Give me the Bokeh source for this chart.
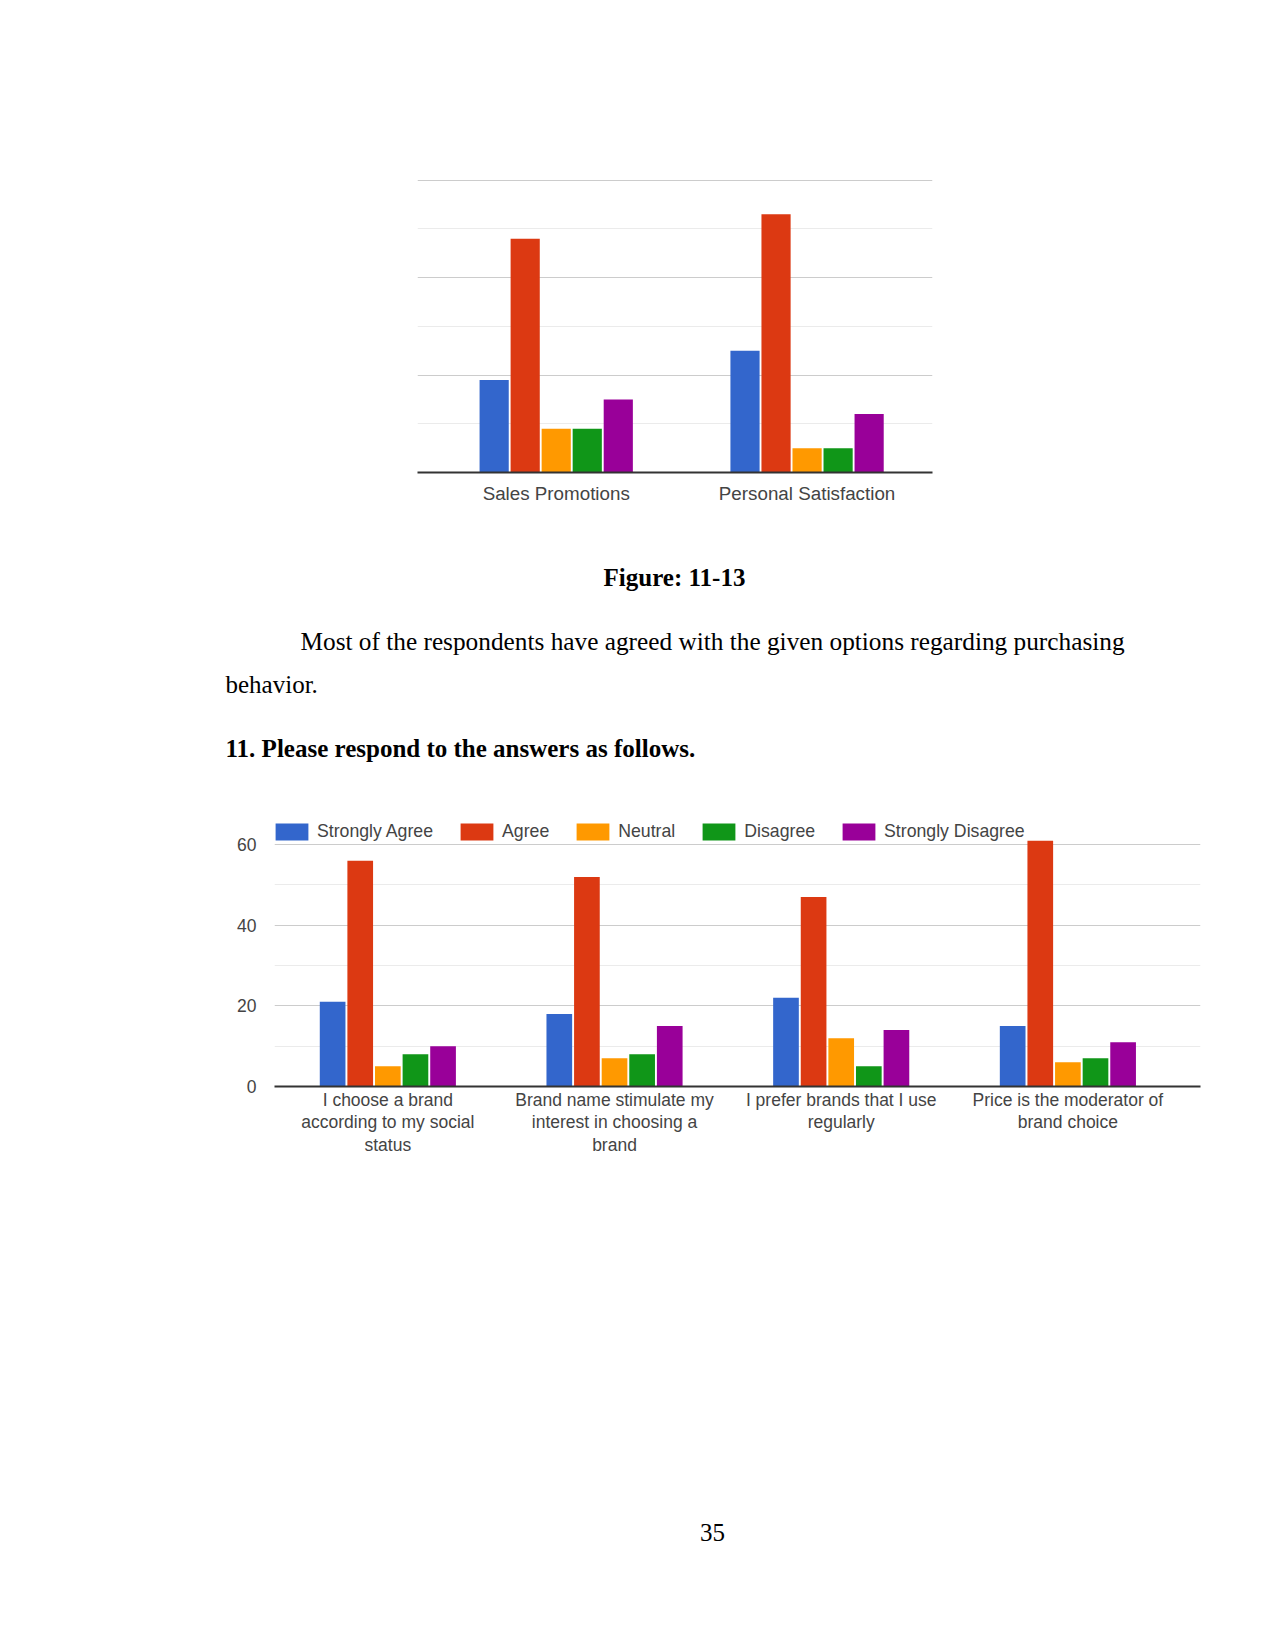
from bokeh.plotting import figure
from bokeh.models import Range1d, FixedTicker, Legend, LegendItem, ColumnDataSource
from bokeh.transform import dodge
from bokeh.core.properties import value
from bokeh.embed import file_html
from bokeh.resources import INLINE

# ---------------- data ----------------
series_names = ["Strongly Agree", "Agree", "Neutral", "Disagree", "Strongly Disagree"]
series_colors = ["#3366cc", "#dc3912", "#ff9900", "#109618", "#990099"]

top_categories = ["Sales Promotions", "Personal Satisfaction"]
top_strongly_agree = [19, 25]
top_agree = [48, 53]
top_neutral = [9, 5]
top_disagree = [9, 5]
top_strongly_disagree = [15, 12]

bottom_categories = [
    "I choose a brand\naccording to my social\nstatus",
    "Brand name stimulate my\ninterest in choosing a\nbrand",
    "I prefer brands that I use\nregularly",
    "Price is the moderator of\nbrand choice",
]
bottom_strongly_agree = [21, 18, 22, 15]
bottom_agree = [56, 52, 47, 61]
bottom_neutral = [5, 7, 12, 6]
bottom_disagree = [8, 8, 5, 7]
bottom_strongly_disagree = [10, 15, 14, 11]

y_major = [0, 20, 40, 60]
y_minor = [10, 30, 50]

caption = "Figure: 11-13"
para_line1 = "Most of the respondents have agreed with the given options regarding purchasing"
para_line2 = "behavior."
heading = "11. Please respond to the answers as follows."
page_number = "35"

SANS = "Liberation Sans"
SERIF = "Liberation Serif"
W = 1267


def style_chart(p):
    p.outline_line_color = None
    p.background_fill_color = "white"
    p.border_fill_color = "white"
    p.ygrid.ticker = FixedTicker(ticks=y_major, minor_ticks=y_minor)
    p.ygrid.grid_line_color = "#cccccc"
    p.ygrid.grid_line_width = 1
    p.ygrid.minor_grid_line_color = "#ebebeb"
    p.ygrid.minor_grid_line_width = 1
    p.xgrid.grid_line_color = None
    p.xaxis.axis_line_color = "#333333"
    p.xaxis.axis_line_width = 2
    p.xaxis.major_tick_line_color = None
    p.xaxis.minor_tick_line_color = None
    p.xaxis.major_label_text_font = SANS
    p.xaxis.major_label_text_color = "#444444"


def draw_bars(p, n_cat, series_values, slot, fill_frac):
    src = ColumnDataSource(dict(
        x=[i + 0.5 for i in range(n_cat)],
        **{f"s{j}": vals for j, vals in enumerate(series_values)},
    ))
    rs = []
    for j, col in enumerate(series_colors):
        rs.append(p.vbar(x=dodge("x", (j - 2) * slot), top=f"s{j}", width=slot * fill_frac,
                         bottom=0, source=src, fill_color=col, line_color=None))
    return rs


# ---------------- top chart ----------------
p1 = figure(width=W, height=510, x_range=Range1d(-0.053, 2.0), y_range=Range1d(0, 60.15),
            output_backend="svg", toolbar_location=None,
            min_border_left=417, min_border_right=335, min_border_top=179, min_border_bottom=38)
style_chart(p1)
draw_bars(p1, len(top_categories),
          [top_strongly_agree, top_agree, top_neutral, top_disagree, top_strongly_disagree],
          0.1237, 0.94)
p1.yaxis.visible = False
p1.xaxis.ticker = FixedTicker(ticks=[i + 0.5 for i in range(len(top_categories))])
p1.xaxis.major_label_overrides = {i + 0.5: c for i, c in enumerate(top_categories)}
p1.xaxis.major_label_text_font_size = "18.8px"
p1.xaxis.major_label_standoff = 4

# ---------------- text block ----------------
p2 = figure(width=W, height=280, x_range=Range1d(0, W), y_range=Range1d(280, 0),
            output_backend="svg", toolbar_location=None, min_border=0,
            x_axis_location=None, y_axis_location=None)
p2.outline_line_color = None
p2.grid.visible = False
p2.text(x=[674], y=[66.5], text=[caption], text_font=value(SERIF), text_font_size="25px",
        text_font_style="bold", text_align="center", text_baseline="middle", text_color="black")
p2.text(x=[300], y=[130.7], text=[para_line1], text_font=value(SERIF), text_font_size="25.3px",
        text_align="left", text_baseline="middle", text_color="black")
p2.text(x=[225], y=[173.8], text=[para_line2], text_font=value(SERIF), text_font_size="25px",
        text_align="left", text_baseline="middle", text_color="black")
p2.text(x=[225], y=[238], text=[heading], text_font=value(SERIF), text_font_size="25px",
        text_font_style="bold", text_align="left", text_baseline="middle", text_color="black")

# ---------------- bottom chart ----------------
# frame: page y 820 .. 1086, page x 274 .. 1200
p3 = figure(width=W, height=380, x_range=Range1d(0, 4.085), y_range=Range1d(0, 66.0),
            output_backend="svg", toolbar_location=None,
            min_border_left=274, min_border_right=67, min_border_top=30, min_border_bottom=84)
style_chart(p3)
rs = draw_bars(p3, len(bottom_categories),
               [bottom_strongly_agree, bottom_agree, bottom_neutral, bottom_disagree,
                bottom_strongly_disagree], 0.1218, 0.93)
p3.yaxis.ticker = FixedTicker(ticks=y_major)
p3.yaxis.axis_line_color = None
p3.yaxis.major_tick_line_color = None
p3.yaxis.minor_tick_line_color = None
p3.yaxis.major_label_text_font = SANS
p3.yaxis.major_label_text_font_size = "17.5px"
p3.yaxis.major_label_text_color = "#444444"
p3.yaxis.major_label_standoff = 12
p3.xaxis.ticker = FixedTicker(ticks=[i + 0.5 for i in range(len(bottom_categories))])
p3.xaxis.major_label_overrides = {i + 0.5: c for i, c in enumerate(bottom_categories)}
p3.xaxis.major_label_text_font_size = "17.5px"
p3.xaxis.major_label_text_line_height = 1.13
p3.xaxis.major_label_standoff = -3

legend = Legend(items=[LegendItem(label=n, renderers=[r]) for n, r in zip(series_names, rs)],
                orientation="horizontal", location=(-3, 244),
                glyph_width=41, glyph_height=21, label_height=16, label_standoff=5, spacing=23,
                padding=0, margin=0, border_line_color=None, background_fill_alpha=0,
                label_text_font=SANS, label_text_font_size="17.7px", label_text_color="#444444")
p3.add_layout(legend)

# ---------------- page number ----------------
p4 = figure(width=W, height=470, x_range=Range1d(0, W), y_range=Range1d(470, 0),
            output_backend="svg", toolbar_location=None, min_border=0,
            x_axis_location=None, y_axis_location=None)
p4.outline_line_color = None
p4.grid.visible = False
p4.text(x=[712], y=[362], text=[page_number], text_font=value(SERIF), text_font_size="25px",
        text_align="center", text_baseline="middle", text_color="black")

open("out.html", "w").write(file_html([p1, p2, p3, p4], INLINE))
